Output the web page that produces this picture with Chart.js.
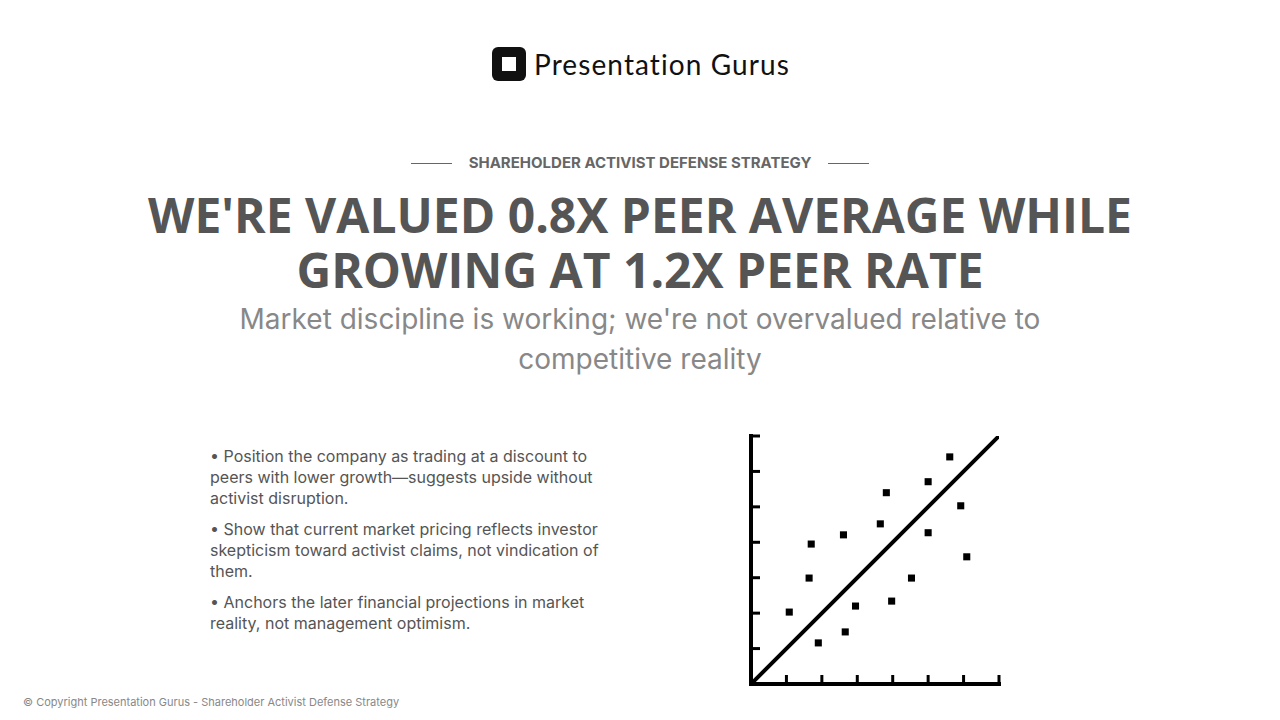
<!DOCTYPE html>
<html><head><meta charset="utf-8">
<script src="https://cdn.jsdelivr.net/npm/chart.js@4/dist/chart.umd.min.js"></script>
<style>
body{margin:0;width:1280px;height:720px;background:#fff;position:relative;overflow:hidden;font-family:Inter,sans-serif}
.logo{position:absolute;top:47px;left:492px;display:flex;align-items:center}
.logo .ic{width:34px;height:34px;background:#111;border-radius:6px;position:relative}
.logo .ic:after{content:"";position:absolute;left:10px;top:10px;width:14px;height:14px;background:#fff}
.logo span{font-family:Lato,Inter,sans-serif;font-size:28px;color:#111;margin-left:8px;letter-spacing:1.1px}
.kick{position:absolute;top:153px;left:0;width:1280px;text-align:center;font-size:15px;font-weight:700;color:#666}
.kick:before,.kick:after{content:"";display:inline-block;width:41px;height:1px;background:#666;vertical-align:middle;margin:0 17px}
h1{position:absolute;top:187px;left:0;width:1280px;margin:0;text-align:center;font-family:"Open Sans",sans-serif;font-weight:700;font-size:48px;line-height:55px;color:#555}
.sub{position:absolute;top:299px;left:230px;width:820px;text-align:center;font-size:28px;line-height:40px;color:#888}
ul{position:absolute;top:446px;left:210px;width:400px;margin:0;padding:0;list-style:none;font-size:16px;line-height:21px;color:#555}
li{margin-bottom:10px}
.foot{position:absolute;top:695px;left:23px;font-size:11px;color:#888}
#wrap{position:absolute;left:735px;top:420px;width:280px;height:280px}
</style></head><body>
<div class="logo"><div class="ic"></div><span>Presentation Gurus</span></div>
<div class="kick">SHAREHOLDER ACTIVIST DEFENSE STRATEGY</div>
<h1>WE'RE VALUED 0.8X PEER AVERAGE WHILE<br>GROWING AT 1.2X PEER RATE</h1>
<div class="sub">Market discipline is working; we're not overvalued relative to competitive reality</div>
<ul>
<li>• Position the company as trading at a discount to peers with lower growth—suggests upside without activist disruption.</li>
<li>• Show that current market pricing reflects investor skepticism toward activist claims, not vindication of them.</li>
<li>• Anchors the later financial projections in market reality, not management optimism.</li>
</ul>
<div class="foot">© Copyright Presentation Gurus - Shareholder Activist Defense Strategy</div>
<div id="wrap"><canvas id="c"></canvas></div>
<script>
const xValues=[1.08,1.64,1.70,1.90,2.61,2.66,2.95,3.65,3.82,3.97,4.53,5.0,5.0,5.61,5.92,6.09];
const yValues=[2.03,2.99,3.95,1.16,4.21,1.47,2.20,4.52,5.40,2.34,2.99,4.27,5.71,6.41,5.03,3.59];
const trendX=[0,7];
const trendY=[0,7];
const tickValues=[1,2,3,4,5,6,7];
const axesPlugin={id:'ax',afterDatasetsDraw(ch){
 const c=ch.ctx,a=ch.chartArea,x=ch.scales.x,y=ch.scales.y;
 c.save();c.strokeStyle='#000';c.lineWidth=4;c.lineCap='square';
 c.beginPath();c.moveTo(a.left,a.top);c.lineTo(a.left,a.bottom);c.lineTo(a.right,a.bottom);c.stroke();
 c.lineWidth=3;c.lineCap='butt';
 tickValues.forEach(v=>{const px=x.getPixelForValue(v);c.beginPath();c.moveTo(px,a.bottom);c.lineTo(px,a.bottom-9);c.stroke();
 const py=y.getPixelForValue(v);c.beginPath();c.moveTo(a.left,py);c.lineTo(a.left+9,py);c.stroke();});
 c.restore();}};
new Chart(document.getElementById('c'),{type:'scatter',
 data:{datasets:[
  {data:xValues.map((v,i)=>({x:v,y:yValues[i]})),pointStyle:'rect',pointRadius:5,backgroundColor:'#000',borderWidth:0},
  {type:'line',data:trendX.map((v,i)=>({x:v,y:trendY[i]})),borderColor:'#000',borderWidth:4,pointRadius:0}
 ]},
 options:{responsive:true,maintainAspectRatio:false,animation:false,
  layout:{padding:{left:16,right:16,top:16,bottom:16}},
  plugins:{legend:{display:false},tooltip:{enabled:false}},
  scales:{x:{type:'linear',min:0,max:7,display:false},y:{min:0,max:7,display:false}}},
 plugins:[axesPlugin]});
</script>
</body></html>
